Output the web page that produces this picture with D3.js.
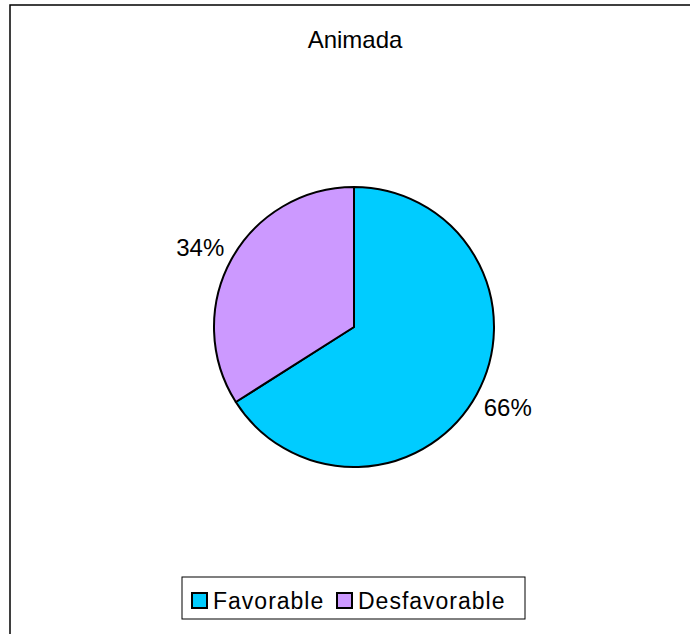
<!DOCTYPE html>
<html>
<head>
<meta charset="utf-8">
<script src="https://cdn.jsdelivr.net/npm/d3@7"></script>
<style>
  html, body { margin: 0; padding: 0; background: #fff; }
  svg { display: block; }
  text { font-family: "Liberation Sans", Arial, sans-serif; fill: #000; }
</style>
</head>
<body>
<svg id="chart" width="690" height="634"></svg>
<script>
// Chart data
const title = "Animada";
const categories = ["Favorable", "Desfavorable"];
const values = [66, 34];
const colors = ["#00CCFF", "#CC99FF"];

const svg = d3.select("#chart");
const W = 690, H = 634;

// Outer chart frame (extends past right and bottom edges)
svg.append("rect")
  .attr("x", 10).attr("y", 5)
  .attr("width", W + 10).attr("height", H + 10)
  .attr("fill", "#fff")
  .attr("stroke", "#000").attr("stroke-width", 1.5);

// Title
svg.append("text")
  .attr("x", 355).attr("y", 48)
  .attr("text-anchor", "middle")
  .attr("font-size", 24)
  .text(title);

// Pie, starting at 12 o'clock and running clockwise
const cx = 354, cy = 327, r = 140;
const data = categories.map((c, i) => ({ name: c, value: values[i], color: colors[i] }));
const pie = d3.pie().value(d => d.value).sort(null);
const arc = d3.arc().innerRadius(0).outerRadius(r);
const arcs = pie(data);

const g = svg.append("g").attr("transform", `translate(${cx},${cy})`);
g.selectAll("path")
  .data(arcs)
  .join("path")
  .attr("d", arc)
  .attr("fill", d => d.data.color)
  .attr("stroke", "#000")
  .attr("stroke-width", 2)
  .attr("stroke-linejoin", "round");

// Percentage labels: the label's nearest corner sits just outside the rim
const labelR = 148;
const labelFont = 24;
const pct = d3.format(".0%");
const total = d3.sum(values);
g.selectAll("text.lbl")
  .data(arcs)
  .join("text")
  .attr("class", "lbl")
  .each(function(d) {
    const a = (d.startAngle + d.endAngle) / 2;
    const x = labelR * Math.sin(a);
    const y = -labelR * Math.cos(a);
    d3.select(this)
      .attr("x", x)
      .attr("y", y > 0 ? y + labelFont * 0.72 : y)
      .attr("text-anchor", x >= 0 ? "start" : "end");
  })
  .attr("font-size", labelFont)
  .text(d => pct(d.data.value / total));

// Legend
const legend = svg.append("g");
legend.append("rect")
  .attr("x", 182).attr("y", 577)
  .attr("width", 343).attr("height", 42)
  .attr("fill", "#fff")
  .attr("stroke", "#000").attr("stroke-width", 1);

const legendX = [192, 337];
const items = legend.selectAll("g.item")
  .data(data)
  .join("g")
  .attr("class", "item")
  .attr("transform", (d, i) => `translate(${legendX[i]},593)`);
items.append("rect")
  .attr("width", 15).attr("height", 15)
  .attr("fill", d => d.color)
  .attr("stroke", "#000").attr("stroke-width", 2);
items.append("text")
  .attr("x", 21).attr("y", 16)
  .attr("font-size", 23)
  .attr("letter-spacing", 1)
  .text(d => d.name);
</script>
</body>
</html>
